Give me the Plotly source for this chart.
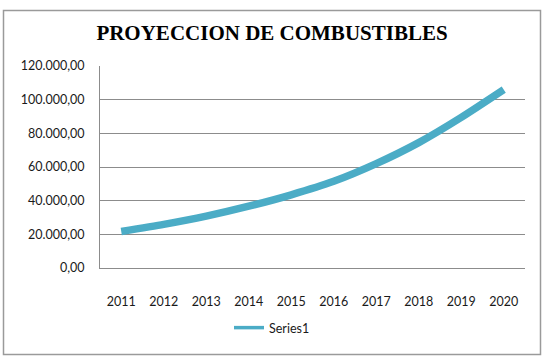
import plotly.graph_objects as go

years = ["2011", "2012", "2013", "2014", "2015", "2016", "2017", "2018", "2019", "2020"]
values = [21700, 25900, 30800, 36700, 43500, 51500, 62000, 74500, 89500, 106000]
series_name = "Series1"
title_text = "PROYECCION DE COMBUSTIBLES"

color = "#4BACC6"
tick_font = dict(family="Lato, Open Sans, sans-serif", size=12.5, color="#1a1a1a")

fig = go.Figure()
fig.add_trace(go.Scatter(
    x=years, y=values, mode="lines", line=dict(color=color, width=7.5, shape="spline", smoothing=0.6),
    showlegend=False, name=series_name,
))
fig.add_trace(go.Scatter(
    x=[None], y=[None], mode="lines", line=dict(color=color, width=3.5),
    name=series_name, showlegend=True,
))

L, R, T, B = 100, 19, 66, 92
W, H = 544, 360
pw, ph = W - L - R, H - T - B

def px_x(p):
    return (p - L) / pw

def px_y(p):
    return (H - B - p) / ph

fig.update_layout(
    width=W, height=H,
    margin=dict(l=L, r=R, t=T, b=B),
    paper_bgcolor="white", plot_bgcolor="white",
    separators=",.",
    title=dict(text="<b>" + title_text + "</b>", x=272 / W, xanchor="center", y=1 - 33 / H, yanchor="middle",
               font=dict(family="Liberation Serif, Times New Roman, serif", size=21, color="#000000"),
               xref="container", yref="container"),
    xaxis=dict(type="category", range=[-0.5, len(years) - 0.5], showgrid=False, showline=True,
               linecolor="#8c8c8c", linewidth=1,
               ticks="", tickfont=tick_font, ticklabelstandoff=22, fixedrange=True),
    yaxis=dict(range=[0, 120000], tickvals=[0, 20000, 40000, 60000, 80000, 100000, 120000],
               tickformat=",.2f", showgrid=True, gridcolor="#8c8c8c", gridwidth=1,
               showline=True, linecolor="#8c8c8c", linewidth=1, zeroline=False,
               ticks="", tickfont=tick_font, ticklabelstandoff=12),
    legend=dict(orientation="h", x=px_x(272), xanchor="center", y=px_y(328), yanchor="middle",
                font=dict(family="Lato, Open Sans, sans-serif", size=12.5, color="#1a1a1a"),
                bgcolor="rgba(0,0,0,0)"),
    shapes=[dict(type="rect", xref="paper", yref="paper",
                 x0=px_x(3.5), x1=px_x(540.5), y0=px_y(354.5), y1=px_y(10.5),
                 line=dict(color="#9a9a9a", width=1.5), layer="below")],
)

fig.write_html("out.html")
